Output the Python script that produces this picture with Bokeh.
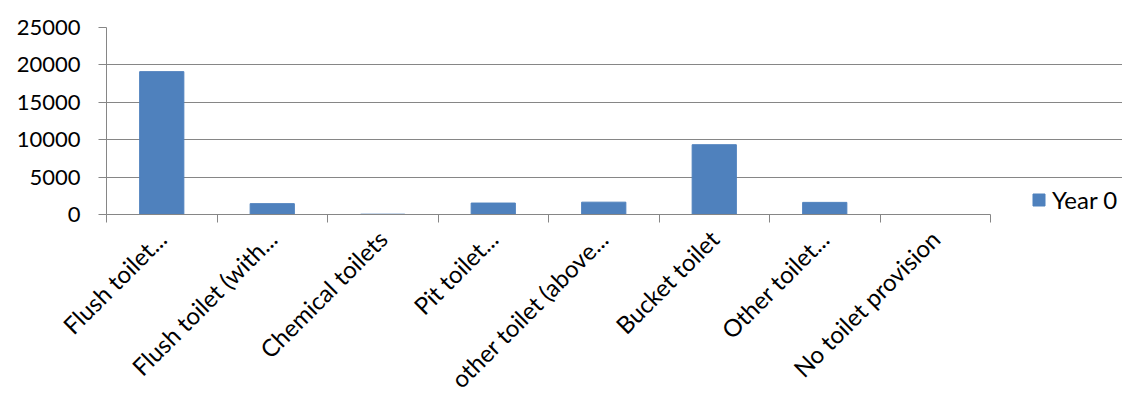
import math
from bokeh.plotting import figure
from bokeh.models import (ColumnDataSource, Range1d, FixedTicker, Legend, LegendItem,
                          NumeralTickFormatter)
from bokeh.embed import file_html
from bokeh.resources import INLINE

categories = ["Flush toilet...", "Flush toilet (with...", "Chemical toilets", "Pit toilet...",
              "other toilet (above...", "Bucket toilet", "Other toilet...", "No toilet provision"]
year0 = [19100, 1450, 40, 1530, 1650, 9330, 1620, 0]
y_ticks = [0, 5000, 10000, 15000, 20000, 25000]
series_name = "Year 0"

FONT = "Lato"
GRAY = "#868686"
BLUE = "#4F81BD"

W, H = 1122, 410
LEFT, TOP, BOTTOM = 106, 27, 196
PLOT_W = 884  # pixel width of the category area

n = len(categories)
centers = [i + 0.5 for i in range(n)]
src = ColumnDataSource(dict(x=centers, top=year0, cat=categories))

x_end = n * (W - LEFT) / PLOT_W
p = figure(width=W, height=H, x_range=Range1d(0, x_end), y_range=Range1d(0, 25000),
           output_backend="svg", toolbar_location=None,
           min_border_left=LEFT, min_border_right=0, min_border_top=TOP, min_border_bottom=BOTTOM)
p.outline_line_color = None
p.background_fill_color = "white"
p.border_fill_color = "white"

r = p.vbar(x="x", top="top", width=0.4, source=src, fill_color=BLUE, line_color=BLUE)

# x axis
p.xgrid.visible = False
xa = p.xaxis[0]
xa.bounds = (0, n)
xa.ticker = FixedTicker(ticks=centers, minor_ticks=list(range(n + 1)))
xa.major_label_overrides = {c: lab for c, lab in zip(centers, categories)}
xa.major_label_orientation = math.pi / 4
xa.major_tick_out = 0
xa.major_tick_in = 0
xa.minor_tick_out = 8
xa.minor_tick_in = 0
xa.minor_tick_line_color = GRAY
xa.axis_line_color = GRAY
xa.major_label_text_font = FONT
xa.major_label_text_font_size = "24px"
xa.major_label_text_color = "black"
xa.major_label_standoff = 12

# y axis
ya = p.yaxis[0]
ya.ticker = FixedTicker(ticks=y_ticks)
ya.formatter = NumeralTickFormatter(format="0")
ya.major_tick_out = 8
ya.major_tick_in = 0
ya.minor_tick_out = 0
ya.minor_tick_in = 0
ya.major_tick_line_color = GRAY
ya.axis_line_color = GRAY
ya.major_label_text_font = FONT
ya.major_label_text_font_size = "22px"
ya.major_label_text_color = "black"
ya.major_label_standoff = 18
p.ygrid.grid_line_color = GRAY
p.ygrid.ticker = FixedTicker(ticks=y_ticks)
p.ygrid.bounds = (0, n)

legend = Legend(items=[LegendItem(label=series_name, renderers=[r])],
                location=(925, 0), margin=0, padding=0, border_line_color=None,
                background_fill_alpha=0, glyph_width=15, glyph_height=15,
                label_standoff=6, label_text_font=FONT, label_text_font_size="24px",
                label_text_color="black")
p.add_layout(legend)

open("out.html", "w").write(file_html(p, INLINE))
